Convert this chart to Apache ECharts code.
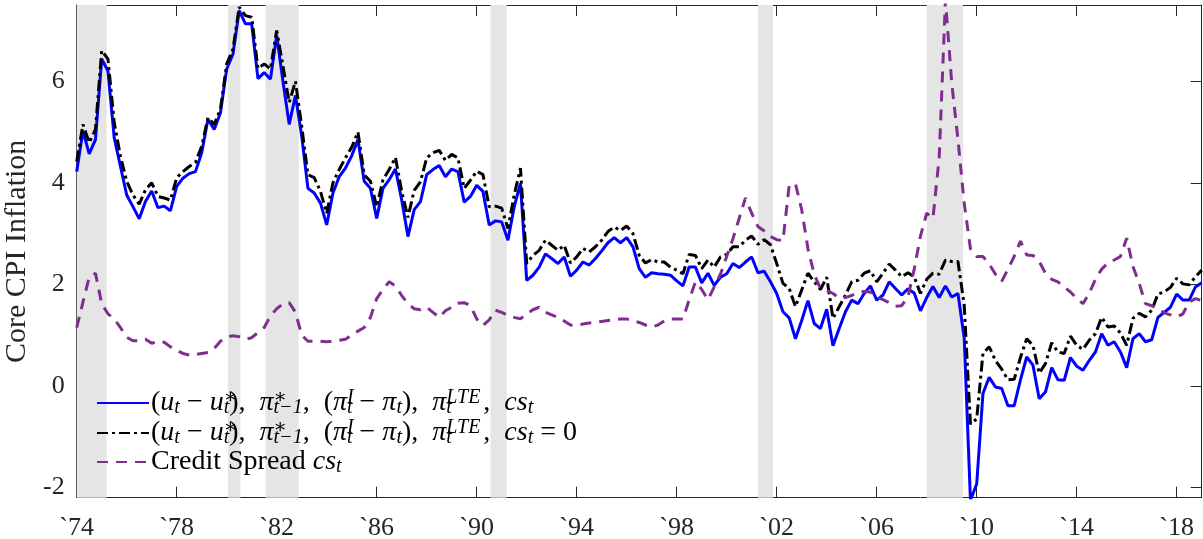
<!DOCTYPE html>
<html>
<head>
<meta charset="utf-8">
<script src="https://cdn.jsdelivr.net/npm/echarts@6/dist/echarts.min.js"></script>
<style>
  html, body { margin: 0; padding: 0; background: #fff; }
  #chart { width: 1203px; height: 539px; }
</style>
</head>
<body>
<div id="chart"></div>
<script>
// quarterly data, 1974Q1 .. 2019Q1
const startYear = 1974;
const blueVals = [4.22,5.02,4.57,4.85,6.44,6.2,4.89,4.32,3.76,3.53,
  3.29,3.63,3.84,3.51,3.54,3.45,3.93,4.09,4.18,4.22,
  4.59,5.25,5.05,5.38,6.24,6.53,7.39,7.13,7.13,6.05,
  6.17,6.04,6.9,6.0,5.15,5.72,4.92,3.89,3.8,3.6,
  3.17,3.8,4.12,4.29,4.53,4.85,4.03,3.89,3.3,3.89,
  4.06,4.27,3.66,2.94,3.47,3.63,4.16,4.26,4.34,4.12,
  4.27,4.22,3.62,3.73,3.95,3.83,3.17,3.25,3.23,2.87,
  3.53,3.99,2.08,2.18,2.34,2.6,2.51,2.41,2.54,2.16,
  2.28,2.44,2.38,2.51,2.66,2.82,2.92,2.82,2.92,2.74,
  2.31,2.14,2.23,2.21,2.2,2.18,2.07,1.97,2.34,2.34,
  2.03,2.22,1.98,2.14,2.21,2.41,2.33,2.44,2.54,2.23,
  2.26,2.05,1.82,1.46,1.34,0.93,1.29,1.68,1.23,1.13,
  1.51,0.79,1.13,1.46,1.69,1.62,1.82,1.97,1.69,1.79,
  2.05,1.92,1.79,1.91,1.83,1.48,1.74,1.96,1.74,1.97,
  1.75,1.82,0.95,-2.25,-1.93,-0.15,0.17,-0.02,-0.05,-0.39,
  -0.39,0.12,0.57,0.41,-0.25,-0.12,0.36,0.12,0.11,0.56,
  0.39,0.31,0.5,0.67,1.03,0.8,0.87,0.67,0.36,0.93,
  1.03,0.87,0.91,1.35,1.45,1.55,1.81,1.69,1.69,1.95,
  2.03];
const blackVals = [4.42,5.15,4.79,5.05,6.6,6.44,5.19,4.52,4.03,3.76,
  3.58,3.86,4.0,3.73,3.7,3.66,4.1,4.22,4.32,4.4,
  4.72,5.28,5.15,5.45,6.34,6.63,7.46,7.29,7.26,6.25,
  6.34,6.24,7.0,6.3,5.58,6.0,5.11,4.16,4.1,3.83,
  3.4,4.0,4.26,4.49,4.7,5.0,4.16,4.03,3.53,4.06,
  4.26,4.5,3.83,3.32,3.85,4.02,4.49,4.59,4.64,4.44,
  4.56,4.49,3.89,4.05,4.23,4.16,3.53,3.54,3.5,3.1,
  3.76,4.29,2.41,2.57,2.67,2.87,2.77,2.67,2.77,2.42,
  2.54,2.71,2.64,2.74,2.87,3.04,3.13,3.06,3.15,3.0,
  2.57,2.42,2.49,2.44,2.44,2.34,2.28,2.21,2.59,2.57,
  2.31,2.48,2.34,2.54,2.59,2.74,2.74,2.87,2.95,2.79,
  2.88,2.78,2.41,2.02,1.92,1.56,1.89,2.22,2.05,1.9,
  2.14,1.33,1.56,1.79,2.05,2.08,2.22,2.27,2.05,2.22,
  2.4,2.28,2.15,2.23,2.15,1.82,2.1,2.22,2.2,2.48,
  2.45,2.45,1.6,-0.75,-0.65,0.64,0.77,0.5,0.33,0.12,
  0.13,0.56,0.93,0.8,0.25,0.44,0.85,0.67,0.64,0.98,
  0.8,0.72,0.9,1.03,1.35,1.16,1.18,1.04,0.8,1.33,
  1.43,1.36,1.49,1.81,1.85,1.94,2.12,2.01,1.99,2.15,
  2.28];
const spreadVals = [1.15,1.65,2.14,2.22,1.62,1.42,1.32,1.15,0.96,0.89,
  0.89,0.92,0.84,0.88,0.86,0.77,0.7,0.64,0.61,0.62,
  0.64,0.66,0.74,0.88,0.96,0.99,0.97,0.92,0.95,1.05,
  1.15,1.38,1.52,1.62,1.64,1.45,1.0,0.88,0.88,0.88,
  0.87,0.88,0.9,0.92,1.0,1.08,1.15,1.35,1.72,1.9,
  2.05,1.97,1.78,1.62,1.52,1.5,1.55,1.45,1.35,1.48,
  1.55,1.63,1.64,1.58,1.32,1.19,1.3,1.49,1.45,1.39,
  1.35,1.32,1.42,1.5,1.55,1.45,1.4,1.35,1.28,1.2,
  1.19,1.22,1.24,1.25,1.27,1.29,1.3,1.32,1.32,1.28,
  1.25,1.2,1.16,1.2,1.28,1.32,1.32,1.32,1.7,2.05,
  1.9,1.7,1.95,2.2,2.55,2.9,3.3,3.7,3.4,3.14,
  3.05,2.94,2.88,2.86,3.95,3.98,3.47,2.7,2.2,1.92,
  1.88,1.82,1.73,1.74,1.78,1.85,1.86,1.85,1.76,1.7,
  1.64,1.57,1.58,1.75,2.3,2.95,3.4,3.3,4.5,7.6,
  5.97,4.85,3.6,2.7,2.55,2.55,2.4,2.2,2.06,2.3,
  2.55,2.85,2.58,2.57,2.45,2.22,2.1,2.05,1.95,1.85,
  1.72,1.62,1.82,2.1,2.3,2.42,2.48,2.55,2.91,2.35,
  2.02,1.62,1.58,1.52,1.44,1.4,1.36,1.42,1.65,1.72,
  1.68];
// NBER recessions (decimal years)
const recessions = [[1974.0, 1975.2], [1980.05, 1980.55], [1981.55, 1982.88],
  [1990.55, 1991.2], [2001.25, 2001.85], [2008.0, 2009.45]];
const seriesNames = ["With credit spread", "Credit spread set to zero", "Credit Spread"];

const toPairs = (vals) => vals.map((v, i) => [i / 4, v]);

const serif = "'Liberation Serif', 'DejaVu Serif', serif";
const axisColor = "#262626";

// latex-ish legend labels, built with rich text
const mathPart =
  "{n|(}{m|u}{b|t}{n| − }{m|u}{pz|∗}{b|t}{c|),}{m|π}{pz|∗}{b|t−1}{c|,}{n|(}{m|π}{pz|I}{b|t}{n| − }{m|π}{b|t}{c|),}{m|π}{bz|t}{p|LTE}{c|,}{m|cs}{b|t}";
const legendText = {
  "With credit spread": mathPart,
  "Credit spread set to zero": mathPart + "{n| = 0}",
  "Credit Spread": "{n|Credit Spread }{m|cs}{b|t}"
};

const chart = echarts.init(document.getElementById("chart"));

const xBase = {
  type: "value", min: 0, max: 45, interval: 4,
  axisLine: { show: true, onZero: false, lineStyle: { color: axisColor, width: 1 } },
  axisTick: { show: true, inside: true, length: 11, lineStyle: { color: axisColor } },
  splitLine: { show: false }
};
const yBase = {
  type: "value", min: -2.2, max: 7.5,
  axisLine: { show: true, onZero: false, lineStyle: { color: axisColor, width: 1 } },
  axisTick: { show: true, inside: true, length: 11, lineStyle: { color: axisColor } },
  splitLine: { show: false }
};

const mainFont = 28;
const scriptFont = 20;

chart.setOption({
  animation: false,
  grid: { left: 76.7, right: 1.3, top: 5, bottom: 41.3, containLabel: false, outerBoundsMode: "none" },
  xAxis: [
    Object.assign({}, xBase, {
      position: "bottom",
      axisLabel: {
        fontFamily: serif, fontSize: 26, color: axisColor, margin: 17,
        showMaxLabel: false,
        formatter: (v) => (v % 4 === 0 ? "`" + String((startYear + v) % 100).padStart(2, "0") : "")
      }
    }),
    Object.assign({}, xBase, { position: "top", axisLabel: { show: false } })
  ],
  yAxis: [
    Object.assign({}, yBase, {
      position: "left",
      name: "Core CPI Inflation",
      nameLocation: "middle",
      nameGap: 31,
      nameTextStyle: { fontFamily: serif, fontSize: 30, color: axisColor },
      axisLabel: {
        fontFamily: serif, fontSize: 26, color: axisColor, margin: 12,
        showMinLabel: false, showMaxLabel: false,
        formatter: (v) => (Math.abs(v - Math.round(v)) < 1e-9 ? String(v) : "")
      }
    }),
    Object.assign({}, yBase, { position: "right", axisLabel: { show: false } })
  ],
  legend: {
    data: seriesNames,
    orient: "vertical",
    left: 96,
    top: 388,
    padding: 0,
    itemGap: 0,
    itemWidth: 52,
    itemHeight: 14,
    itemStyle: { opacity: 0 },
    formatter: (name) => legendText[name],
    textStyle: {
      fontFamily: serif,
      color: "#000",
      padding: [0, 0, 0, -3],
      rich: {
        n: { fontFamily: serif, fontSize: mainFont, lineHeight: 30, color: "#000" },
        c: { fontFamily: serif, fontSize: mainFont, lineHeight: 30, color: "#000", padding: [0, 14, 0, 0] },
        m: { fontFamily: serif, fontSize: mainFont, fontStyle: "italic", lineHeight: 30, color: "#000" },
        b: { fontFamily: serif, fontSize: scriptFont, fontStyle: "italic", verticalAlign: "bottom", lineHeight: 12, color: "#000" },
        bz: { fontFamily: serif, fontSize: scriptFont, fontStyle: "italic", verticalAlign: "bottom", lineHeight: 12, width: 0.01, color: "#000" },
        p: { fontFamily: serif, fontSize: scriptFont, fontStyle: "italic", verticalAlign: "top", lineHeight: 12, color: "#000", padding: [0, 3, 0, 0] },
        pz: { fontFamily: serif, fontSize: scriptFont, fontStyle: "italic", verticalAlign: "top", lineHeight: 12, width: 0.01, color: "#000" }
      }
    }
  },
  series: [
    {
      type: "line",
      data: [],
      z: 0,
      silent: true,
      markArea: {
        silent: true,
        itemStyle: { color: "#e5e5e5" },
        data: recessions.map((r) => [{ xAxis: r[0] - startYear }, { xAxis: r[1] - startYear }])
      }
    },
    {
      name: seriesNames[0],
      type: "line",
      data: toPairs(blueVals),
      symbol: "none",
      lineStyle: { color: "#0000ff", width: 3 },
      itemStyle: { color: "#0000ff" }
    },
    {
      name: seriesNames[1],
      type: "line",
      data: toPairs(blackVals),
      symbol: "none",
      lineStyle: { color: "#000000", width: 3, type: [11, 4, 3, 4] },
      itemStyle: { color: "#000000" }
    },
    {
      name: seriesNames[2],
      type: "line",
      data: toPairs(spreadVals),
      symbol: "none",
      lineStyle: { color: "#7e2f8e", width: 3, type: [11, 8] },
      itemStyle: { color: "#7e2f8e" }
    }
  ]
});
</script>
</body>
</html>
